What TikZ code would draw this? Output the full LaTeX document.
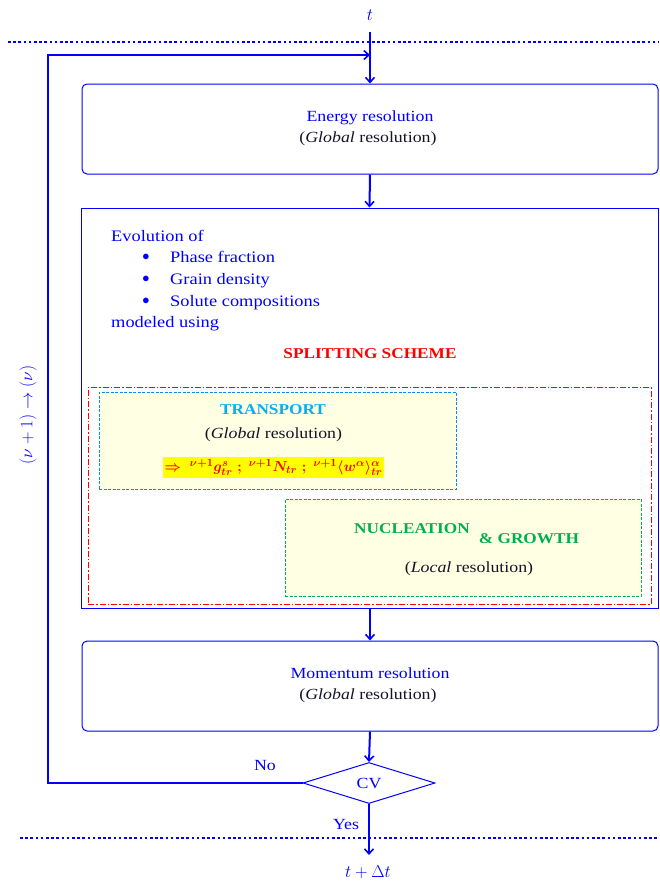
\documentclass[tikz,border=0pt]{standalone}
\usepackage{amsmath}
\usepackage{fontspec}
\setmainfont[FakeStretch=1.15]{Liberation Serif}
\usetikzlibrary{arrows.meta,shapes.geometric}
\definecolor{flowblue}{RGB}{0,0,255}
\definecolor{transportcyan}{RGB}{0,176,240}
\definecolor{nuclgreen}{RGB}{0,176,80}
\definecolor{paleyellow}{RGB}{255,255,228}
\definecolor{splitred}{RGB}{255,0,0}
\definecolor{hilite}{RGB}{255,255,0}
\definecolor{darktext}{RGB}{20,20,40}

\begin{document}
\begin{tikzpicture}[x=1pt,y=-1pt,
  every node/.style={font=\fontsize{15.5}{18}\selectfont},
  flow/.style={draw=flowblue,line width=2pt,-{Straight Barb[length=5pt,width=9pt,line width=1.6pt]}},
  loopline/.style={draw=flowblue,line width=2.6pt},
  sepline/.style={draw=flowblue,line width=2.6pt,dash pattern=on 2.6pt off 2.6pt},
  stagebox/.style={draw=flowblue,line width=1pt,rounded corners=5pt,rectangle,inner sep=0pt},
  bigbox/.style={draw=flowblue,line width=1pt,rectangle,inner sep=0pt},
  splitbox/.style={draw=splitred,line width=0.9pt,dash pattern=on 6pt off 2pt on 1.5pt off 2pt,rectangle,inner sep=0pt},
  subbox/.style={line width=0.9pt,dash pattern=on 3pt off 1.5pt,fill=paleyellow,rectangle,inner sep=0pt},
  bluetext/.style={text=flowblue},
  darklabel/.style={text=darktext},
  listtext/.style={text=flowblue,anchor=base west,inner sep=0pt,font=\fontsize{16}{19}\selectfont},
  heading/.style={font=\fontsize{15}{18}\selectfont\bfseries,anchor=base,inner sep=0pt}
]
\useasboundingbox (0,0) rectangle (659,883);

% time step separators
\draw[sepline] (8,42) -- (659,42);
\draw[sepline] (20,838) -- (659,838);

% stage boxes
\node[stagebox,minimum width=576pt,minimum height=90pt] (energy) at (370,129) {};
\node[bigbox,minimum width=577pt,minimum height=400pt] (evol) at (369.5,408) {};
\node[splitbox,minimum width=563pt,minimum height=217pt] (split) at (369.5,495.5) {};
\node[subbox,draw=transportcyan!80!blue,minimum width=357pt,minimum height=97pt] (transport) at (277.5,440.5) {};
\node[subbox,draw=nuclgreen,minimum width=356pt,minimum height=97pt] (nucl) at (463,547.5) {};
\node[stagebox,minimum width=576pt,minimum height=90pt] (momentum) at (370,686) {};
\node[diamond,draw=flowblue,line width=1pt,minimum width=132pt,minimum height=41pt,inner sep=0pt,bluetext] (cv) at (369,783) {CV};

% energy stage text
\node[bluetext,anchor=base,inner sep=0pt] (energyt) at (370,121) {Energy resolution};
\node[darklabel,anchor=base,inner sep=0pt] (energyg) at (368,142) {(\textit{Global} resolution)};

% evolution text
\node[listtext] (ev1) at (111,241) {Evolution of};
\node[bluetext] (b1) at (146,257) {$\bullet$};
\node[bluetext] (b2) at (146,279) {$\bullet$};
\node[bluetext] (b3) at (146,301) {$\bullet$};
\node[listtext] (ev2) at (170,262) {Phase fraction};
\node[listtext] (ev3) at (170,284) {Grain density};
\node[listtext] (ev4) at (170,306) {Solute compositions};
\node[listtext] (ev5) at (111,327) {modeled using};
\node[heading,text=splitred] (splitt) at (370,358) {SPLITTING SCHEME};

% transport text
\node[heading,text=transportcyan] (trt) at (273,414) {TRANSPORT};
\node[darklabel,anchor=base,inner sep=0pt] (trg) at (273.5,438) {(\textit{Global} resolution)};
\node[fill=hilite,text=splitred,inner xsep=2pt,inner ysep=0pt,minimum height=21pt,font=\fontsize{15}{18}\selectfont\boldmath] (trf) at (273.5,467.5)
  {$\Rightarrow\ {}^{\nu+1}g^{s}_{tr}\;;\ {}^{\nu+1}N_{tr}\;;\ {}^{\nu+1}\langle w^{\alpha}\rangle^{\alpha}_{tr}$};

% nucleation and growth text
\node[heading,text=nuclgreen] (nt) at (412,533) {NUCLEATION};
\node[heading,text=nuclgreen] (gt) at (529,543) {\& GROWTH};
\node[darklabel,anchor=base,inner sep=0pt] (nl) at (469,572) {(\textit{Local} resolution)};

% momentum stage text
\node[bluetext,anchor=base,inner sep=0pt] (momt) at (370,678) {Momentum resolution};
\node[darklabel,anchor=base,inner sep=0pt] (momg) at (368,699) {(\textit{Global} resolution)};

% time labels and decisions
\node[bluetext,font=\fontsize{16}{19}\selectfont] (tin) at (370,15) {$t$};
\node[bluetext,font=\fontsize{16}{19}\selectfont] (tout) at (368,872) {$t+\Delta t$};
\node[bluetext] (no) at (265,765) {No};
\node[bluetext] (yes) at (346,824) {Yes};
\node[bluetext,rotate=90,font=\fontsize{17}{20}\selectfont] (iter) at (28,415) {$(\nu+1)\rightarrow(\nu)$};

% connectors
\coordinate (tstart) at (370,32);
\coordinate (join) at (370,55);
\coordinate (corner) at (48,783);
\coordinate (tend) at (369,855);
\draw[flow] (tstart) -- (energy.north);
\draw[flow] (energy.south) -- (evol.north);
\draw[flow] (evol.south -| energy.south) -- (momentum.north);
\draw[flow] (momentum.south) -- (cv.north);
\draw[flow] (cv.south) -- (tend);
\draw[loopline] (cv.west) -- (corner) |- (join);
\draw[flow,line width=2.6pt] (corner |- join) -- (join);
\end{tikzpicture}
\end{document}
